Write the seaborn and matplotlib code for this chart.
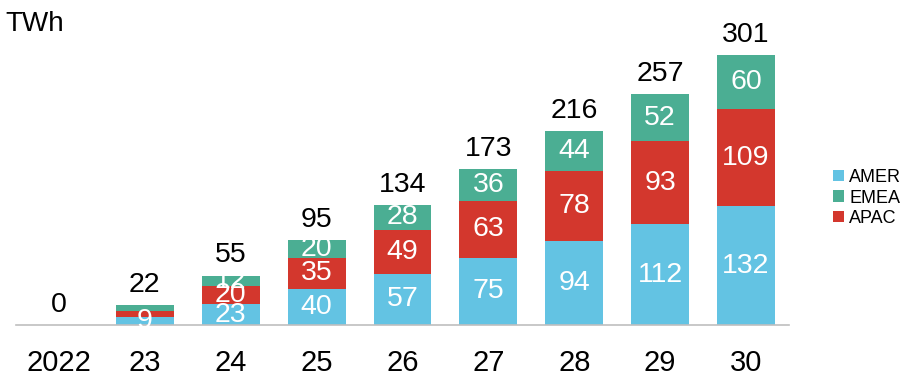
import matplotlib
matplotlib.use("Agg")
import matplotlib.pyplot as plt
import numpy as np
import pandas as pd
import seaborn as sns

# % Data
years = ["2022", "23", "24", "25", "26", "27", "28", "29", "30"]
amer = [0, 9, 23, 40, 57, 75, 94, 112, 132]
apac = [0, 7, 20, 35, 49, 63, 78, 93, 109]
emea = [0, 6, 12, 20, 28, 36, 44, 52, 60]
totals = [0, 22, 55, 95, 134, 173, 216, 257, 301]

c_amer = "#63C3E3"
c_apac = "#D3372D"
c_emea = "#4BAE93"

df = pd.DataFrame({"year": years, "AMER": amer, "APAC": apac, "EMEA": emea})
df["lvl_amer"] = df["AMER"]
df["lvl_apac"] = df["AMER"] + df["APAC"]
df["lvl_emea"] = df["lvl_apac"] + df["EMEA"]

# % Plot
sns.set_style("white")
plt.rcParams["font.family"] = ["Liberation Sans", "DejaVu Sans"]
plt.rcParams["text.color"] = "black"
plt.rcParams["xtick.color"] = "black"

fig = plt.figure(figsize=(9.17, 3.84), dpi=100)
ax = fig.add_axes([16 / 917, 59 / 384, 773 / 917, 325 / 384])

width = 0.675
# draw cumulative levels from the top down so they overlap into a stack
for col, c, name in [("lvl_emea", c_emea, "EMEA"),
                     ("lvl_apac", c_apac, "APAC"),
                     ("lvl_amer", c_amer, "AMER")]:
    sns.barplot(data=df, x="year", y=col, color=c, width=width,
                saturation=1, ax=ax, label=name, linewidth=0, edgecolor="none")

ax.set_xlim(-0.5, len(years) - 0.5)
ax.set_ylim(0, 362)
ax.set_xlabel("")
ax.set_ylabel("")
ax.set_yticks([])
for s in ["top", "right", "left"]:
    ax.spines[s].set_visible(False)
ax.spines["bottom"].set_color("#BFBFBF")
ax.spines["bottom"].set_linewidth(1.2)

ax.set_xticks(range(len(years)))
ax.set_xticklabels(years, fontsize=21, color="black")
ax.tick_params(axis="x", which="major", length=0, pad=17)
ax.set_xticks(np.arange(-0.5, len(years)), minor=True)
ax.tick_params(axis="x", which="minor", length=8, width=1.2,
               color="#BFBFBF", direction="out")

# segment labels
for i, row in df.iterrows():
    segs = [("AMER", 0, row["AMER"]),
            ("APAC", row["lvl_amer"], row["APAC"]),
            ("EMEA", row["lvl_apac"], row["EMEA"])]
    for name, base, val in segs:
        if val >= 8:
            ax.text(i, base + val / 2, f"{val}", ha="center", va="center",
                    color="white", fontsize=20.5)
    ax.text(i, totals[i] + 8, f"{totals[i]}", ha="center", va="bottom",
            fontsize=20.5, color="black")

fig.text(5 / 917, 1 - 31 / 384, "TWh", fontsize=20, ha="left",
         va="baseline", color="black")

# legend
handles, labels = ax.get_legend_handles_labels()
order = [labels.index(n) for n in ["AMER", "EMEA", "APAC"]]
leg = ax.legend([handles[k] for k in order], [labels[k] for k in order],
                loc="center left", bbox_to_anchor=(833 / 917, 186 / 384),
                bbox_transform=fig.transFigure, frameon=False,
                handlelength=0.6, handleheight=0.6, handletextpad=0.3,
                labelspacing=0.2, borderaxespad=0, borderpad=0,
                prop={"size": 13})

plt.savefig("out.png", dpi=100)
